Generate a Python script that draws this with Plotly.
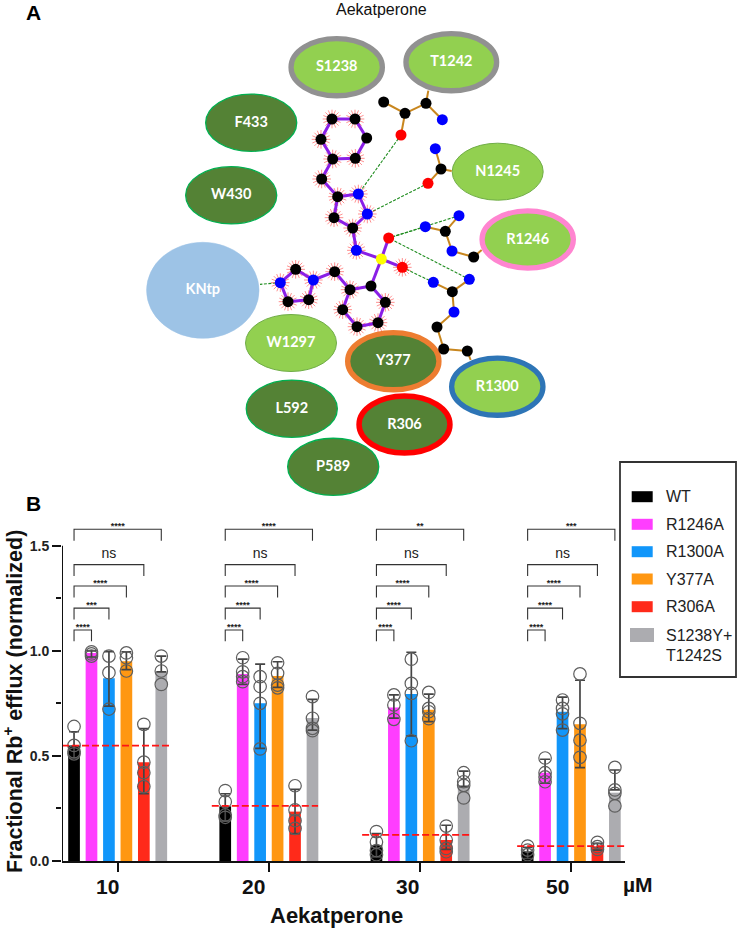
import plotly.graph_objects as go

# ---------- Panel B data ----------
doses = ["10", "20", "30", "50"]
variants = ["WT", "R1246A", "R1300A", "Y377A", "R306A", "S1238Y+T1242S"]
colors = ["#000000", "#FF3DFF", "#1196FA", "#FF9712", "#FF2A1A", "#ACACB0"]

wt_mean = [0.55, 0.26, 0.075, 0.045]
r1246_mean = [0.99, 0.89, 0.73, 0.42]
r1300_mean = [0.87, 0.75, 0.795, 0.71]
y377_mean = [0.95, 0.88, 0.72, 0.65]
r306_mean = [0.47, 0.235, 0.10, 0.07]
dbl_mean = [0.90, 0.68, 0.36, 0.325]

wt_hi = [0.615, 0.32, 0.13, 0.065]
wt_lo = [0.49, 0.19, 0.02, 0.012]
r1246_hi = [1.0, 0.96, 0.79, 0.484]
r1246_lo = [0.97, 0.84, 0.68, 0.37]
r1300_hi = [0.996, 0.937, 0.993, 0.78]
r1300_lo = [0.737, 0.536, 0.595, 0.63]
y377_hi = [0.995, 0.948, 0.794, 0.86]
y377_lo = [0.91, 0.826, 0.663, 0.444]
r306_hi = [0.63, 0.341, 0.17, 0.084]
r306_lo = [0.32, 0.13, 0.055, 0.052]
dbl_hi = [0.975, 0.769, 0.428, 0.433]
dbl_lo = [0.90, 0.623, 0.354, 0.338]

wt_pts = [[0.64, 0.55, 0.52, 0.51], [0.335, 0.282, 0.219, 0.208], [0.14, 0.09, 0.05, 0.03], [0.071, 0.052, 0.03, -0.003]]
r1246_pts = [[0.995, 0.985, 0.975], [0.967, 0.90, 0.877, 0.853], [0.79, 0.742, 0.674], [0.49, 0.42, 0.40, 0.377]]
r1300_pts = [[0.975, 0.896, 0.723], [0.877, 0.83, 0.75, 0.533], [0.96, 0.845, 0.797, 0.572], [0.766, 0.726, 0.70, 0.623]]
y377_pts = [[0.99, 0.967, 0.904], [0.943, 0.893, 0.837, 0.824], [0.802, 0.726, 0.71, 0.677], [0.89, 0.655, 0.575, 0.493]]
r306_pts = [[0.65, 0.47, 0.42, 0.354], [0.358, 0.243, 0.192, 0.155], [0.166, 0.10, 0.06, 0.044], [0.089, 0.068, 0.055]]
dbl_pts = [[0.975, 0.904, 0.84], [0.782, 0.679, 0.631, 0.62], [0.42, 0.377, 0.36, 0.30], [0.445, 0.338, 0.322, 0.262]]

all_means = [wt_mean, r1246_mean, r1300_mean, y377_mean, r306_mean, dbl_mean]
all_hi = [wt_hi, r1246_hi, r1300_hi, y377_hi, r306_hi, dbl_hi]
all_lo = [wt_lo, r1246_lo, r1300_lo, y377_lo, r306_lo, dbl_lo]
all_pts = [wt_pts, r1246_pts, r1300_pts, y377_pts, r306_pts, dbl_pts]

ref_level = [0.549, 0.262, 0.124, 0.071]
ref_from = [-3.19, -3.27, -3.32, -3.10]
ref_to = [3.0, 2.82, 2.81, 3.03]

bracket_level = [1.099, 1.203, 1.308, 1.41, 1.578]
bracket_text = [
    ["****", "***", "****", "ns", "****"],
    ["****", "****", "****", "ns", "****"],
    ["****", "****", "****", "ns", "**"],
    ["****", "****", "****", "ns", "***"],
]
label_shift = [-0.61, -0.90, -0.70, -0.80]

# ---------- Panel A data (picture coordinates) ----------
res_names = ["S1238", "T1242", "F433", "W430", "N1245", "R1246", "KNtp", "W1297", "Y377", "R1300", "L592", "R306", "P589"]
res_x = [336.7, 451.3, 251.2, 231.2, 497.7, 527.7, 202.8, 291.0, 393.3, 497.3, 291.8, 404.5, 333.2]
res_y = [67.2, 62.2, 122.7, 195.3, 171.7, 239.5, 290.3, 343.0, 361.2, 386.7, 408.7, 424.5, 466.8]
res_rx = [48.3, 48.0, 46.2, 46.2, 46.0, 48.3, 56.5, 46.0, 48.3, 48.3, 46.2, 48.2, 46.2]
res_ry = [31.2, 31.2, 29.3, 29.3, 29.0, 31.2, 48.3, 29.0, 31.2, 31.2, 29.3, 31.2, 29.2]
res_fill = ["#92D050", "#92D050", "#548235", "#548235", "#92D050", "#92D050", "#9DC3E6", "#92D050", "#548235", "#92D050", "#548235", "#548235", "#548235"]
res_line = ["#919191", "#919191", "#00B050", "#00B050", "#70AD47", "#FF85D0", "#9DC3E6", "#70AD47", "#ED7D31", "#2E75B6", "#00B050", "#FF0000", "#00B050"]
res_lw = [5.3, 5.3, 1.3, 1.3, 1.0, 5.3, 0.5, 1.0, 5.3, 5.3, 1.3, 5.5, 1.3]

K, B_, R_, Y_ = "#000000", "#0000FF", "#FF0000", "#FFFF00"
lig_x = [246, 315, 350, 316, 248, 213, 215, 263, 325, 352, 308, 252, 319, 394, 416, 457, 363, 300, 278, 321, 384, 406, 254, 190, 137, 91, 114, 176]
lig_y = [147, 147, 204, 265, 267, 208, 327, 380, 372, 432, 474, 443, 541, 567, 504, 592, 648, 659, 719, 770, 758, 697, 605, 630, 598, 638, 695, 689]
lig_c = [K, K, K, K, K, K, K, K, B_, B_, K, K, B_, Y_, R_, R_, K, K, K, K, K, K, K, B_, K, B_, K, K]
lig_bonds = [(0, 1), (1, 2), (2, 3), (3, 4), (4, 5), (5, 0), (4, 6), (6, 7), (7, 8), (8, 9), (9, 10), (10, 11), (11, 7),
             (10, 12), (12, 13), (13, 14), (13, 15), (13, 16), (16, 17), (17, 18), (18, 19), (19, 20), (20, 21), (21, 16),
             (17, 22), (22, 23), (23, 24), (24, 25), (25, 26), (26, 27), (27, 23)]
no_spokes = [2, 13, 14, 16]

pro_x = [401, 465, 528, 577, 453, 556, 573, 534, 526, 586, 627, 606, 671, 550, 607, 658, 612, 561, 581, 652]
pro_y = [96, 130, 100, 149, 195, 236, 297, 340, 470, 484, 437, 543, 561, 637, 665, 628, 726, 771, 837, 843]
pro_c = [K, K, K, B_, R_, B_, K, R_, B_, K, B_, B_, K, B_, K, B_, B_, K, K, K]
pro_bonds = [(0, 1), (1, 2), (2, 3), (1, 4), (5, 6), (6, 7), (8, 9), (9, 10), (9, 11), (11, 12), (13, 14), (14, 15), (14, 16), (16, 17), (17, 18), (18, 19)]
stub_from = [2, 6, 12, 19]
stub_x = [535, 605, 695, 662]
stub_y = [62, 303, 540, 870]

hb_pairs = [(4, 8), (7, 9), (8, 14), (10, 14), (15, 14), (13, 15)]  # protein atom, ligand atom
kntp_hb_x = [91, 30]
kntp_hb_y = [638, 643]

# ---------- Geometry ----------
W, H = 740, 930
AX_L, AX_R, AX_B, AX_T = 62, 625, 861, 505
STRIDE = 8.665
Y_PER_PX = 1 / 210.2
X_MIN, X_MAX = -3.19, 3 * STRIDE + 3.08
centers = [g * STRIDE for g in range(4)]


def zx(v):
    return 250 + v / 3


def zy(v):
    return 70 + v / 3


def px(x):
    return x / W


def py(y):
    return 1 - y / H


def note(x, y, text, size, weight="normal", color="#111111", xref="paper", xanchor="center", angle=0):
    return dict(x=x, y=py(y), xref=xref, yref="paper", text=text, showarrow=False, xanchor=xanchor, yanchor="middle",
                textangle=angle, font=dict(family="Liberation Sans", size=size, color=color, weight=weight))


fig = go.Figure()
shapes, annotations = [], []

# ---------- Panel A ----------
for i in range(len(res_names)):
    w = res_lw[i]
    shapes.append(dict(type="circle", xref="x2", yref="y2", layer="below",
                       x0=res_x[i] - res_rx[i] + w / 2, x1=res_x[i] + res_rx[i] - w / 2,
                       y0=res_y[i] - res_ry[i] + w / 2, y1=res_y[i] + res_ry[i] - w / 2,
                       fillcolor=res_fill[i], line=dict(color=res_line[i], width=w)))

fig.add_trace(go.Scatter(x=res_x, y=[v + 0.5 for v in res_y], text=res_names, mode="text", xaxis="x2", yaxis="y2",
                         textfont=dict(family="Lato", size=14.5, color="#FFFFFF", weight="bold"),
                         textposition="middle center", showlegend=False, hoverinfo="skip"))


def bond_xy(xs, ys, pairs):
    bx, by = [], []
    for a, b in pairs:
        bx += [zx(xs[a]), zx(xs[b]), None]
        by += [zy(ys[a]), zy(ys[b]), None]
    return bx, by


hx, hy = [], []
for p, l in hb_pairs:
    hx += [zx(pro_x[p]), zx(lig_x[l]), None]
    hy += [zy(pro_y[p]), zy(lig_y[l]), None]
hx += [zx(v) for v in kntp_hb_x]
hy += [zy(v) for v in kntp_hb_y]
fig.add_trace(go.Scatter(x=hx, y=hy, mode="lines", xaxis="x2", yaxis="y2", showlegend=False, hoverinfo="skip",
                         line=dict(color="#1E8C1E", width=1.1, dash="3px,1.5px")))

sx = [zx(v) for i, v in enumerate(lig_x) if i not in no_spokes]
sy = [zy(v) for i, v in enumerate(lig_y) if i not in no_spokes]
for ang in (0, 22):
    fig.add_trace(go.Scatter(x=sx, y=sy, mode="markers", xaxis="x2", yaxis="y2", showlegend=False, hoverinfo="skip",
                             marker=dict(symbol="asterisk-open", size=15.5, angle=ang, color="#FF2020",
                                         line=dict(color="#FF2020", width=0.5))))

bx, by = bond_xy(pro_x, pro_y, pro_bonds)
for s, ex, ey in zip(stub_from, stub_x, stub_y):
    bx += [zx(pro_x[s]), zx(ex), None]
    by += [zy(pro_y[s]), zy(ey), None]
fig.add_trace(go.Scatter(x=bx, y=by, mode="lines", xaxis="x2", yaxis="y2", showlegend=False, hoverinfo="skip",
                         line=dict(color="#C8861E", width=2)))
bx, by = bond_xy(lig_x, lig_y, lig_bonds)
fig.add_trace(go.Scatter(x=bx, y=by, mode="lines", xaxis="x2", yaxis="y2", showlegend=False, hoverinfo="skip",
                         line=dict(color="#8A1FE6", width=3)))
fig.add_trace(go.Scatter(x=[zx(v) for v in lig_x + pro_x], y=[zy(v) for v in lig_y + pro_y], mode="markers",
                         xaxis="x2", yaxis="y2", showlegend=False, hoverinfo="skip",
                         marker=dict(size=11, color=lig_c + pro_c, line=dict(width=0))))

annotations.append(note(px(382), 10, "Aekatperone", 16))
annotations.append(note(px(33), 12, "A", 21, "bold", "#000000"))
annotations.append(note(px(33), 503, "B", 21, "bold", "#000000"))

# ---------- Panel B ----------
for i, name in enumerate(variants):
    xs = [c + i - 2.5 for c in centers]
    means = all_means[i]
    fig.add_trace(go.Bar(x=xs, y=means, width=0.67, name=name, marker=dict(color=colors[i], line=dict(width=0)),
                         showlegend=False,
                         error_y=dict(type="data", symmetric=False, color="#444444", thickness=1.7, width=5,
                                      array=[h - m for h, m in zip(all_hi[i], means)],
                                      arrayminus=[m - l for l, m in zip(all_lo[i], means)])))

for i, name in enumerate(variants):
    cx, cy = [], []
    for g, pts in enumerate(all_pts[i]):
        cx += [centers[g] + i - 2.5] * len(pts)
        cy += pts
    fig.add_trace(go.Scatter(x=cx, y=cy, mode="markers", name=name, showlegend=False, cliponaxis=False,
                             marker=dict(size=12.5, color="rgba(0,0,0,0)", line=dict(color="#5E5E5E", width=1.2))))

for g, c in enumerate(centers):
    fig.add_trace(go.Scatter(x=[c + ref_from[g], c + ref_to[g]], y=[ref_level[g]] * 2, mode="lines", showlegend=False,
                             cliponaxis=False, hoverinfo="skip",
                             line=dict(color="#FF1414", width=1.8, dash="7px,3px")))

bkx, bky, stx, sty, stt, nsx, nsy = [], [], [], [], [], [], []
for g, c in enumerate(centers):
    left = c - 2.5
    for k, lev in enumerate(bracket_level):
        right = c - 2.5 + k + 1
        bkx += [left, left, right, right, None]
        bky += [lev - 0.054, lev, lev, lev - 0.054, None]
        if bracket_text[g][k] == "ns":
            nsx.append((left + right) / 2)
            nsy.append(lev + 0.046)
        else:
            stx.append((left + right) / 2)
            sty.append(lev + 0.012)
            stt.append(bracket_text[g][k])
fig.add_trace(go.Scatter(x=bkx, y=bky, mode="lines", showlegend=False, hoverinfo="skip",
                         line=dict(color="#333333", width=1.1)))
fig.add_trace(go.Scatter(x=stx, y=sty, text=stt, mode="text", showlegend=False, hoverinfo="skip",
                         textposition="middle center",
                         textfont=dict(family="Liberation Sans", size=9, color="#222222", weight="bold")))
fig.add_trace(go.Scatter(x=nsx, y=nsy, text=["ns"] * 4, mode="text", showlegend=False, hoverinfo="skip",
                         textposition="middle center",
                         textfont=dict(family="Liberation Sans", size=14, color="#222222")))

# y spine stopping at 1.5
fig.add_trace(go.Scatter(x=[X_MIN, X_MIN], y=[0, 1.5], mode="lines", showlegend=False, cliponaxis=False,
                         hoverinfo="skip", line=dict(color="#111111", width=2)))

for g, d in enumerate(doses):
    annotations.append(note(centers[g] + label_shift[g], 886, d, 21, "bold", xref="x"))
annotations.append(note(px(638), 884, "µM", 21, "bold"))
annotations.append(note(px(336), 915, "Aekatperone", 22, "bold"))
annotations.append(note(px(13), 702, "Fractional Rb<sup>+</sup> efflux (normalized)", 21.5, "bold", angle=-90))

# Legend box
shapes.append(dict(type="rect", xref="paper", yref="paper", x0=px(620), x1=px(736), y0=py(677), y1=py(462),
                   line=dict(color="#333333", width=1.8), fillcolor="rgba(0,0,0,0)"))
leg_rows = [496.7, 524.3, 551.7, 579, 606.7, 635]
leg_labels = ["WT", "R1246A", "R1300A", "Y377A", "R306A", "S1238Y+"]
for i, yc in enumerate(leg_rows):
    half_h, x0, x1 = (7, 630, 654) if i == 5 else (5.5, 631.7, 652.7)
    shapes.append(dict(type="rect", xref="paper", yref="paper", x0=px(x0), x1=px(x1), y0=py(yc + half_h), y1=py(yc - half_h),
                       fillcolor=colors[i], line=dict(width=0)))
    annotations.append(note(px(664), yc, leg_labels[i], 16, color="#222222", xanchor="left"))
annotations.append(note(px(664), 655, "T1242S", 16, color="#222222", xanchor="left"))

fig.update_layout(
    width=W, height=H, autosize=False, margin=dict(l=0, r=0, t=0, b=0), paper_bgcolor="white", plot_bgcolor="rgba(0,0,0,0)",
    barmode="overlay", shapes=shapes, annotations=annotations, showlegend=False,
    xaxis=dict(domain=[px(AX_L), px(AX_R)], range=[X_MIN, X_MAX], tickmode="array", tickvals=centers, showticklabels=False,
               ticks="outside", ticklen=9, tickwidth=2, tickcolor="#111111", showline=True, linecolor="#111111", linewidth=2,
               showgrid=False, zeroline=False, anchor="y", automargin=False),
    yaxis=dict(domain=[py(AX_B), py(AX_T)], range=[0, (AX_B - AX_T) * Y_PER_PX], tickmode="array", tickvals=[0, 0.5, 1.0, 1.5],
               ticktext=["0.0", "0.5", "1.0", "1.5"], ticks="outside", ticklen=9, tickwidth=2, tickcolor="#111111",
               tickfont=dict(family="Liberation Sans", size=14, color="#222222", weight="bold"),
               minor=dict(tickvals=[0.25, 0.75, 1.25], ticks="outside", ticklen=5, tickwidth=2, tickcolor="#111111"),
               showline=False, showgrid=False, zeroline=False, anchor="x", automargin=False),
    xaxis2=dict(domain=[0, 1], range=[0, W], visible=False, anchor="y2", fixedrange=True, automargin=False),
    yaxis2=dict(domain=[0, 1], range=[H, 0], visible=False, anchor="x2", fixedrange=True, automargin=False),
)

fig.write_html("out.html", config=dict(displayModeBar=False), post_script="document.body.style.margin='0';")
